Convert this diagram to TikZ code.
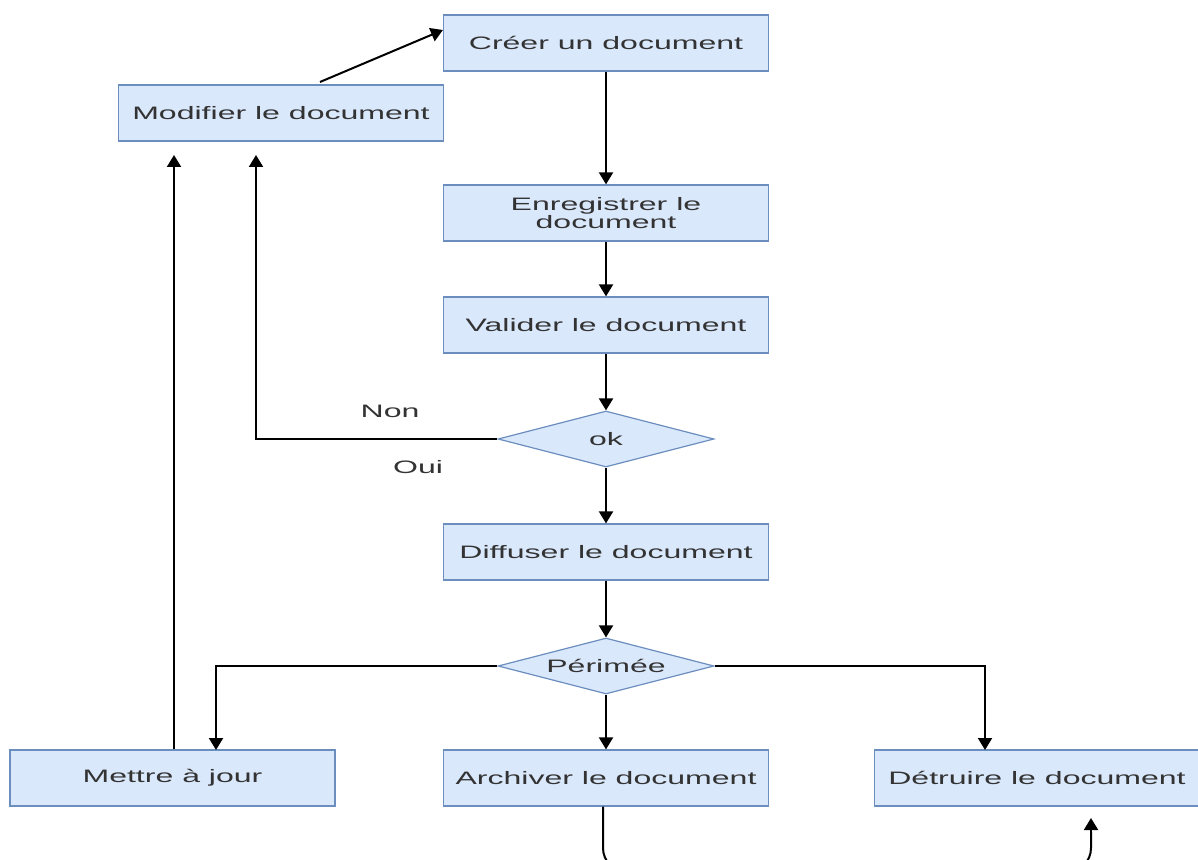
\documentclass[tikz,border=0pt]{standalone}
\usepackage{fontspec}
\setmainfont{Liberation Sans}[FakeStretch=1.78]
\usepackage{tikz}
\usetikzlibrary{shapes.geometric}
\usetikzlibrary{arrows.meta}
\definecolor{boxfill}{HTML}{DAE8FC}
\definecolor{boxline}{HTML}{6C8EBF}

\begin{document}
\begin{tikzpicture}[x=0.5pt,y=-0.5pt]
    \newcommand{\colx}{606}
    \tikzstyle{dedge} = [line width=1pt,-{Triangle[length=6pt,width=7pt]},draw=black]
    \tikzstyle{edge}  = [line width=1pt,draw=black]
    \tikzstyle{box}=[
      rectangle,
      draw=boxline,
      fill=boxfill,
      line width=0.6pt,
      anchor=center,
      minimum width=162.5pt,
      minimum height=28pt,
      inner sep=0pt,
      align=center,
      text=black!80,
      font=\fontsize{9}{10}\selectfont,
    ]
    \tikzstyle{decision}=[
      diamond,
      aspect=3.86,
      draw=boxline,
      fill=boxfill,
      line width=0.6pt,
      minimum width=108pt,
      minimum height=28pt,
      inner sep=0pt,
      text=black!80,
      font=\fontsize{9}{10}\selectfont,
    ]
    \useasboundingbox (0,0) rectangle (1198,860);
    \clip (0,0) rectangle (1198,860);

    \node[box] (nCreate) at (\colx,43) {Créer un document};
    \node[box] (nModify) at (281,113) {Modifier le document};
    \node[box] (nSave) at (\colx,213) {Enregistrer le\\[-1pt]document};
    \node[box] (nValidate) at (\colx,325) {Valider le document};
    \node[decision] (nOk) at (\colx,439) {ok};
    \node[box] (nSpread) at (\colx,552) {Diffuser le document};
    \node[decision] (nExpired) at (\colx,666) {Périmée};
    \node[box] (nUpdate) at (172.5,778) {Mettre à jour};
    \node[box] (nArchive) at (\colx,778) {Archiver le document};
    \node[box] (nDestroy) at (1037,778) {Détruire le document};

    \coordinate (cNonUp) at (256,155);
    \coordinate (cUpdUp) at (174,155);
    \coordinate (cModOut) at (320,82);
    \coordinate (cDestIn) at (1091,818);

    \draw[dedge] (nCreate)--(nSave);
    \draw[dedge] (nSave)--(nValidate);
    \draw[dedge] (nValidate)--(nOk);
    \draw[dedge] (nOk)--(nSpread);
    \draw[dedge] (nSpread)--(nExpired);
    \draw[dedge] (nExpired)--(nArchive);
    \draw[dedge] (nOk.west)-|(cNonUp);
    \draw[dedge] (nUpdate.north -| cUpdUp)--(cUpdUp);
    \draw[dedge] (cModOut)--(nCreate.west |- 0,30);
    \draw[dedge] (nExpired.west)-|(216,750);
    \draw[dedge] (nExpired.east)-|(985,750);
    \draw[edge,rounded corners=12pt] (nArchive.south -| 603,0)--(603,872)--(1091,872)--(1091,832);
    \draw[dedge] (1091,833)--(cDestIn);

    \node[text=black!80,font=\fontsize{9}{10}\selectfont] (lNon) at (390,411) {Non};
    \node[text=black!80,font=\fontsize{9}{10}\selectfont] (lOui) at (418,467) {Oui};
  \end{tikzpicture}
\end{document}
